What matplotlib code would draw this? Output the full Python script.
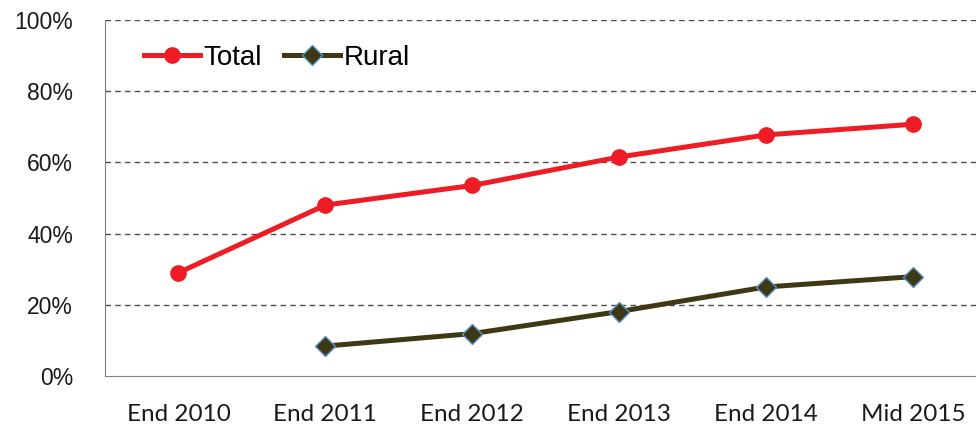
import matplotlib
matplotlib.use('Agg')
import matplotlib.pyplot as plt

# data
periods = ['End 2010', 'End 2011', 'End 2012', 'End 2013', 'End 2014', 'Mid 2015']
total = [29.0, 48.0, 53.5, 61.5, 67.7, 70.7]
rural_periods = ['End 2011', 'End 2012', 'End 2013', 'End 2014', 'Mid 2015']
rural = [8.4, 11.9, 18.1, 25.0, 27.9]

fig = plt.figure(figsize=(9.76, 4.28), dpi=100)
ax = fig.add_axes([0.1076, 0.1215, 0.8924, 0.832])

x_total = list(range(len(periods)))
x_rural = [periods.index(p) for p in rural_periods]

ax.plot(x_total, total, color='#ee1c25', linewidth=3.6, marker='o',
        markersize=11, label='Total', zorder=3)
ax.plot(x_rural, rural, color='#3d3915', linewidth=3.6, marker='D',
        markersize=10, markerfacecolor='#3d3915', markeredgecolor='#5b8fc7',
        markeredgewidth=1.0, label='Rural', zorder=3)

ax.set_ylim(0, 100)
ax.set_xlim(-0.5, 5.43)
ax.set_yticks([0, 20, 40, 60, 80, 100])
ax.set_yticklabels([f'{v}%' for v in [0, 20, 40, 60, 80, 100]],
                   fontsize=16.5, family='Liberation Sans', color='#1a1a1a')
ax.set_xticks(x_total)
ax.set_xticklabels(periods, fontsize=17.5, family='Lato', color='#1a1a1a')
ax.tick_params(axis='both', length=0)
ax.tick_params(axis='y', pad=23)
ax.tick_params(axis='x', pad=20)

for v in [20, 40, 60, 80, 100]:
    ax.axhline(v, color='#4d4d4d', linestyle=(0, (4, 3)), linewidth=1.0, zorder=1)

for side in ['top', 'right']:
    ax.spines[side].set_visible(False)
ax.spines['left'].set_color('#808080')
ax.spines['bottom'].set_color('#808080')

leg = ax.legend(loc='upper left', bbox_to_anchor=(0.016, 1.0), ncol=2, frameon=False,
                prop={'family': 'Liberation Sans', 'size': 20}, handlelength=2.0,
                handletextpad=0.15, columnspacing=0.8)

fig.savefig('out.png', dpi=100)
